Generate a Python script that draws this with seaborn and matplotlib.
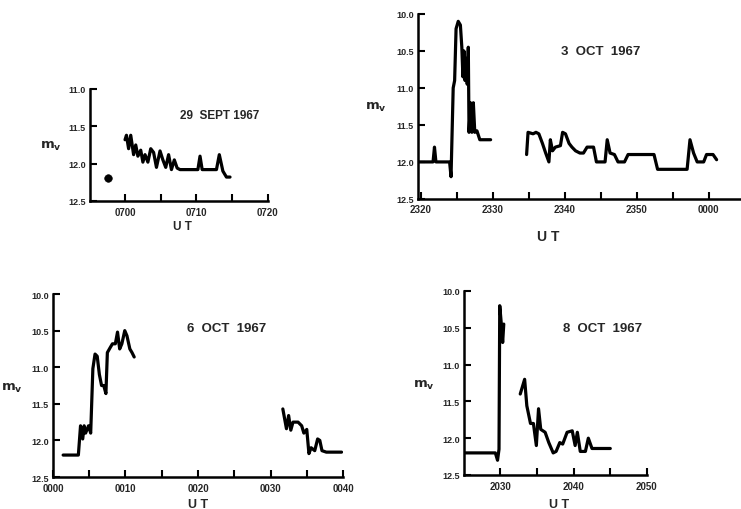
import matplotlib
matplotlib.use("Agg")
import matplotlib.pyplot as plt
import pandas as pd
import seaborn as sns

# minutes from the first labelled tick of each panel, visual magnitude m_v
# 29 SEPT 1967 (minutes from 0700)
sep29_dot_t = [-2.4]
sep29_dot_m = [12.19]
sep29_t = [0.0, 0.2, 0.5, 0.8, 1.2, 1.5, 1.8, 2.2, 2.5, 2.8, 3.2, 3.6, 4.0, 4.4,
           4.9, 5.3, 5.7, 6.1, 6.5, 6.9, 7.3, 7.7, 10.2, 10.5, 10.8, 12.8, 13.2,
           13.7, 14.2, 14.7]
sep29_m = [11.68, 11.62, 11.8, 11.62, 11.88, 11.75, 11.9, 11.82, 11.98, 11.88,
           11.98, 11.8, 11.85, 12.05, 11.83, 11.95, 12.05, 11.88, 12.08, 11.95,
           12.06, 12.08, 12.08, 11.9, 12.08, 12.08, 11.88, 12.1, 12.18, 12.18]

# 3 OCT 1967 (minutes from 2320)
oct3_a_t = [-0.4, 1.7, 1.9, 2.1, 4.0, 4.2, 4.5, 4.7, 4.9, 5.2, 5.5, 5.7, 5.85,
            6.0, 6.15, 6.3, 6.45, 6.6, 6.7, 6.9, 7.1, 7.3, 7.5, 7.8, 8.2, 9.7]
oct3_a_m = [12.0, 12.0, 11.8, 12.0, 12.0, 12.2, 11.0, 10.9, 10.2, 10.1, 10.15,
            10.45, 10.85, 10.5, 10.9, 10.6, 10.95, 10.45, 11.6, 11.2, 11.6, 11.2,
            11.6, 11.58, 11.7, 11.7]
oct3_b_t = [14.7, 14.9, 15.6, 16.0, 16.4, 16.9, 17.35, 17.8, 18.0, 18.3, 18.7,
            19.4, 19.7, 20.1, 20.6, 21.0, 21.5, 22.1, 22.6, 23.1, 24.0, 24.4,
            25.6, 25.9, 26.3, 26.9, 27.4, 28.3, 28.8, 32.4, 32.9, 37.0, 37.4,
            37.9, 38.4, 39.3, 39.7, 40.6, 41.1]
oct3_b_m = [11.9, 11.6, 11.62, 11.6, 11.62, 11.75, 11.88, 12.0, 11.7, 11.85,
            11.8, 11.78, 11.6, 11.62, 11.75, 11.8, 11.85, 11.88, 11.88, 11.8,
            11.8, 12.0, 12.0, 11.7, 11.88, 11.9, 12.0, 12.0, 11.9, 11.9, 12.1,
            12.1, 11.7, 11.88, 12.0, 12.0, 11.9, 11.9, 11.97]

# 6 OCT 1967 (minutes from 0000)
oct6_a_t = [1.4, 3.5, 3.8, 4.1, 4.3, 4.5, 4.9, 5.2, 5.5, 5.8, 6.1, 6.4, 6.7,
            7.0, 7.3, 7.5, 7.9, 8.2, 8.6, 8.9, 9.2, 9.5, 9.9, 10.2, 10.6, 10.9,
            11.2]
oct6_a_m = [12.2, 12.2, 11.8, 11.98, 11.8, 11.9, 11.8, 11.9, 11.02, 10.82,
            10.85, 11.1, 11.25, 11.25, 11.36, 10.8, 10.73, 10.68, 10.68, 10.52,
            10.75, 10.68, 10.5, 10.57, 10.75, 10.8, 10.86]
oct6_b_t = [31.7, 32.2, 32.5, 32.8, 33.1, 33.8, 34.3, 34.6, 35.0, 35.3, 35.6,
            36.1, 36.5, 36.8, 37.1, 37.7, 39.8]
oct6_b_m = [11.57, 11.84, 11.66, 11.86, 11.75, 11.75, 11.8, 11.9, 11.85, 12.18,
            12.1, 12.14, 11.98, 12.0, 12.14, 12.16, 12.16]

# 8 OCT 1967 (minutes from 2025)
oct8_a_t = [0.1, 4.3, 4.6, 4.8, 4.9, 5.1, 5.3, 5.45]
oct8_a_m = [12.2, 12.2, 12.3, 12.15, 10.2, 10.43, 10.7, 10.45]
oct8_b_t = [7.7, 8.3, 8.6, 9.1, 9.5, 9.9, 10.2, 10.5, 11.1, 11.6, 12.2, 12.6,
            13.1, 13.5, 14.1, 14.8, 15.2, 15.5, 15.9, 16.6, 17.0, 17.5, 20.0]
oct8_b_m = [11.4, 11.2, 11.56, 11.8, 11.8, 12.1, 11.6, 11.88, 11.92, 12.06,
            12.2, 12.18, 12.06, 12.08, 11.92, 11.9, 12.1, 11.92, 12.18, 12.18,
            12.0, 12.14, 12.14]

# tick labels
sep29_ticks = [0, 10, 20]
sep29_labels = ["0700", "0710", "0720"]
oct3_ticks = [0, 10, 20, 30, 40]
oct3_labels = ["2320", "2330", "2340", "2350", "0000"]
oct6_ticks = [0, 10, 20, 30, 40]
oct6_labels = ["0000", "0010", "0020", "0030", "0040"]
oct8_ticks = [5, 15, 25]
oct8_labels = ["2030", "2040", "2050"]

sns.set_style("ticks")
plt.rcParams["font.family"] = ["Liberation Sans", "DejaVu Sans"]
plt.rcParams["font.weight"] = "bold"

fig = plt.figure(figsize=(7.41, 5.10), dpi=100)

panels = [
    dict(rect=[0.1215, 0.604, 0.240, 0.2196],
         segs=[(sep29_t, sep29_m)], xlim=(-4.9, 20.0), ylim=(12.5, 11.0),
         yt=[11.0, 11.5, 12.0, 12.5], xt=sep29_ticks, xl=sep29_labels, minor=[5, 15],
         title="29  SEPT 1967", tpos=(0.73, 0.77), fs=8.5,
         mv=(-0.22, 0.5), ut=(0.52, -0.22), utfs=8.5),
    dict(rect=[0.564, 0.608, 0.44, 0.3627],
         segs=[(oct3_a_t, oct3_a_m), (oct3_b_t, oct3_b_m)], xlim=(-0.4, 44.9),
         ylim=(12.5, 10.0), yt=[10.0, 10.5, 11.0, 11.5, 12.0, 12.5],
         xt=oct3_ticks, xl=oct3_labels, minor=[5, 15, 25, 35],
         title="3  OCT  1967", tpos=(0.56, 0.80), fs=9.5,
         mv=(-0.13, 0.50), ut=(0.40, -0.20), utfs=10),
    dict(rect=[0.0715, 0.0627, 0.3914, 0.3588],
         segs=[(oct6_a_t, oct6_a_m), (oct6_b_t, oct6_b_m)], xlim=(0, 40),
         ylim=(12.5, 10.0), yt=[10.0, 10.5, 11.0, 11.5, 12.0, 12.5],
         xt=oct6_ticks, xl=oct6_labels, minor=[5, 15, 25, 35],
         title="6  OCT  1967", tpos=(0.60, 0.814), fs=9.5,
         mv=(-0.14, 0.49), ut=(0.50, -0.15), utfs=9),
    dict(rect=[0.626, 0.0667, 0.247, 0.3608],
         segs=[(oct8_a_t, oct8_a_m), (oct8_b_t, oct8_b_m)], xlim=(0, 25),
         ylim=(12.5, 10.0), yt=[10.0, 10.5, 11.0, 11.5, 12.0, 12.5],
         xt=oct8_ticks, xl=oct8_labels, minor=[10, 20],
         title="8  OCT  1967", tpos=(0.76, 0.80), fs=9.5,
         mv=(-0.22, 0.49), ut=(0.52, -0.16), utfs=9),
]

for p in panels:
    ax = fig.add_axes(p["rect"])
    for t, m in p["segs"]:
        df = pd.DataFrame({"t": t, "m": m})
        sns.lineplot(data=df, x="t", y="m", ax=ax, color="black", linewidth=2.3,
                     sort=False, estimator=None, errorbar=None)
    ax.set_xlim(*p["xlim"])
    ax.set_ylim(*p["ylim"])
    ax.set_yticks(p["yt"])
    ax.set_yticklabels([f"{v:.1f}" for v in p["yt"]], fontsize=6.5, fontweight="bold")
    ax.set_xticks(p["xt"])
    ax.set_xticklabels(p["xl"], fontsize=7, fontweight="bold")
    ax.set_xticks(p["minor"], minor=True)
    ax.tick_params(axis="both", which="both", direction="in", length=5, width=1.5,
                   color="black")
    ax.tick_params(axis="x", which="both", pad=4)
    ax.tick_params(axis="y", which="both", pad=3)
    ax.set_xlabel("")
    ax.set_ylabel("")
    for s in ["top", "right"]:
        ax.spines[s].set_visible(False)
    for s in ["left", "bottom"]:
        ax.spines[s].set_linewidth(1.8)
        ax.spines[s].set_color("black")
    ax.text(p["tpos"][0], p["tpos"][1], p["title"], transform=ax.transAxes,
            ha="center", va="center", fontsize=p["fs"], fontweight="bold")
    ax.text(p["mv"][0], p["mv"][1], r"$\mathbf{m_v}$", transform=ax.transAxes,
            ha="center", va="center", fontsize=9.5)
    ax.text(p["ut"][0], p["ut"][1], "U T", transform=ax.transAxes,
            ha="center", va="center", fontsize=p["utfs"], fontweight="bold")

# isolated point on 29 SEPT
ax0 = fig.axes[0]
sns.scatterplot(x=sep29_dot_t, y=sep29_dot_m, ax=ax0, color="black", s=30,
                edgecolor="black", zorder=5, legend=False)
ax0.set_ylim(12.5, 11.0)

fig.savefig("out.png", dpi=100)
